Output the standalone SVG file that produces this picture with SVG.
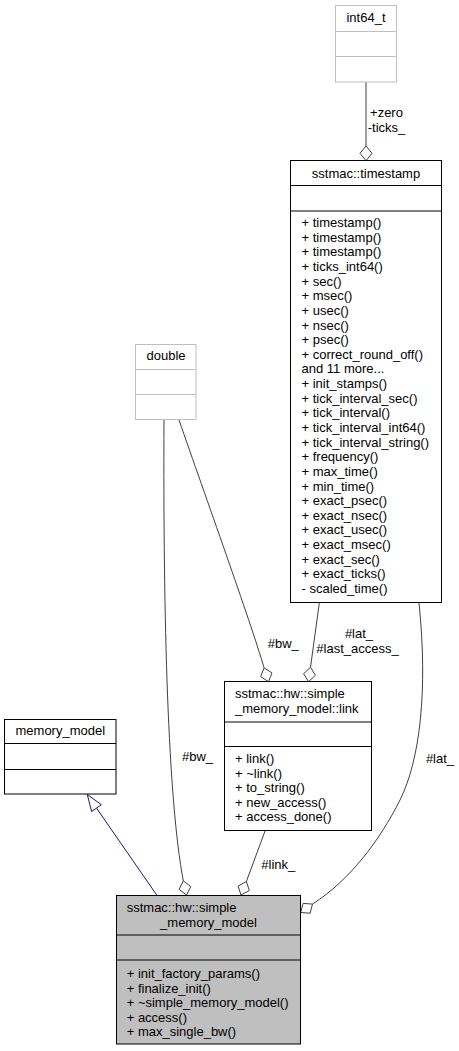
<svg xmlns="http://www.w3.org/2000/svg" width="459" height="1051" viewBox="0 0 459 1051">
  <style>
    text { font-family: "Liberation Sans", Arial, Helvetica, sans-serif; font-size: 13px; fill: #000; }
    .mid { text-anchor: middle; }
    .box { fill: #fff; stroke: #000; stroke-width: 1; }
    .ghost { fill: #fff; stroke: #bfbfbf; stroke-width: 1; }
    .cur { fill: #bfbfbf; stroke: #000; stroke-width: 1; }
    .sep { stroke: #000; stroke-width: 1; }
    .gsep { stroke: #bfbfbf; stroke-width: 1; }
    .use { fill: none; stroke: #404040; stroke-width: 1; }
    .dia { fill: #fff; stroke: #404040; stroke-width: 1; }
    .inh { fill: none; stroke: #191970; stroke-width: 1; }
    .tri { fill: #fff; stroke: #191970; stroke-width: 1; }
  </style>

  <!-- connectors -->
  <g id="edges">
    <!-- int64_t -> timestamp -->
    <path class="use" d="M366,82 V146"/>
    <polygon class="dia" points="366,160.7 372,153.3 366,146 360,153.3"/>
    <text class="mid" x="386.5" y="117">+zero</text>
    <text class="mid" x="386.5" y="132">-ticks_</text>

    <!-- double -> link -->
    <path class="use" d="M179,420 C205,495 250,620 264.1,667.9"/>
    <polygon class="dia" points="268.5,681.7 272,673 264.1,667.9 260.6,676.6"/>
    <text class="mid" x="283.3" y="648">#bw_</text>

    <!-- timestamp -> link -->
    <path class="use" d="M319.3,603 L310.5,667.3"/>
    <polygon class="dia" points="308.5,681.7 315.4,675.3 310.5,667.3 303.6,673.7"/>
    <text class="mid" x="359" y="638">#lat_</text>
    <text class="mid" x="357.5" y="652.5">#last_access_</text>

    <!-- timestamp -> simple_memory_model -->
    <path class="use" d="M419,603 C428,690 420,760 400,800 C380,840 350,880 312.5,904.1"/>
    <polygon class="dia" points="300.7,912.5 310.1,913.2 312.5,904.1 303.1,903.4"/>
    <text class="mid" x="440" y="763">#lat_</text>

    <!-- double -> simple_memory_model -->
    <path class="use" d="M164,420 C163,620 168,800 183.3,880.9"/>
    <polygon class="dia" points="186.5,895 190.75,886.6 183.3,880.9 179.05,889.3"/>
    <text class="mid" x="197.5" y="761">#bw_</text>

    <!-- link -> simple_memory_model -->
    <path class="use" d="M265,831 L246.4,881.5"/>
    <polygon class="dia" points="241,895 249.3,890.5 246.4,881.5 238.1,886.1"/>
    <text class="mid" x="278.3" y="869">#link_</text>

    <!-- simple_memory_model inherits memory_model -->
    <path class="inh" d="M156.7,895 L96.5,808.1"/>
    <polygon class="tri" points="87.3,794.5 101.4,804.7 91.6,811.5"/>
  </g>

  <!-- int64_t -->
  <g id="node-int64_t">
    <rect class="ghost" x="335.5" y="5.5" width="61" height="76.5"/>
    <line class="gsep" x1="335.5" y1="31.5" x2="396.5" y2="31.5"/>
    <line class="gsep" x1="335.5" y1="56.5" x2="396.5" y2="56.5"/>
    <text class="mid" x="366" y="22">int64_t</text>
  </g>

  <!-- sstmac::timestamp -->
  <g id="node-timestamp">
    <rect class="box" x="290.5" y="160.5" width="151" height="442"/>
    <line class="sep" x1="290.5" y1="185.5" x2="441.5" y2="185.5"/>
    <line class="sep" x1="290.5" y1="211" x2="441.5" y2="211"/>
    <text class="mid" x="366" y="178">sstmac::timestamp</text>
    <text x="301.5" y="227">+ timestamp()</text>
    <text x="301.5" y="241.6">+ timestamp()</text>
    <text x="301.5" y="256.3">+ timestamp()</text>
    <text x="301.5" y="270.9">+ ticks_int64()</text>
    <text x="301.5" y="285.6">+ sec()</text>
    <text x="301.5" y="300.2">+ msec()</text>
    <text x="301.5" y="314.8">+ usec()</text>
    <text x="301.5" y="329.5">+ nsec()</text>
    <text x="301.5" y="344.1">+ psec()</text>
    <text x="301.5" y="358.8">+ correct_round_off()</text>
    <text x="301.5" y="373.4">and 11 more...</text>
    <text x="301.5" y="388">+ init_stamps()</text>
    <text x="301.5" y="402.7">+ tick_interval_sec()</text>
    <text x="301.5" y="417.3">+ tick_interval()</text>
    <text x="301.5" y="432">+ tick_interval_int64()</text>
    <text x="301.5" y="446.6">+ tick_interval_string()</text>
    <text x="301.5" y="461.2">+ frequency()</text>
    <text x="301.5" y="475.9">+ max_time()</text>
    <text x="301.5" y="490.5">+ min_time()</text>
    <text x="301.5" y="505.2">+ exact_psec()</text>
    <text x="301.5" y="519.8">+ exact_nsec()</text>
    <text x="301.5" y="534.4">+ exact_usec()</text>
    <text x="301.5" y="549.1">+ exact_msec()</text>
    <text x="301.5" y="563.7">+ exact_sec()</text>
    <text x="301.5" y="578.4">+ exact_ticks()</text>
    <text x="301.5" y="593">- scaled_time()</text>
  </g>

  <!-- double -->
  <g id="node-double">
    <rect class="ghost" x="135.5" y="344.5" width="60.5" height="75"/>
    <line class="gsep" x1="135.5" y1="369.5" x2="196" y2="369.5"/>
    <line class="gsep" x1="135.5" y1="394.5" x2="196" y2="394.5"/>
    <text class="mid" x="166" y="360">double</text>
  </g>

  <!-- sstmac::hw::simple_memory_model::link -->
  <g id="node-link">
    <rect class="box" x="224.5" y="681.5" width="147" height="149"/>
    <line class="sep" x1="224.5" y1="722" x2="371.5" y2="722"/>
    <line class="sep" x1="224.5" y1="746.5" x2="371.5" y2="746.5"/>
    <text x="235" y="698">sstmac::hw::simple</text>
    <text x="235" y="712.6">_memory_model::link</text>
    <text x="235" y="763">+ link()</text>
    <text x="235" y="777.6">+ ~link()</text>
    <text x="235" y="792.2">+ to_string()</text>
    <text x="235" y="806.8">+ new_access()</text>
    <text x="235" y="821.4">+ access_done()</text>
  </g>

  <!-- memory_model -->
  <g id="node-memory_model">
    <rect class="box" x="4.5" y="719.5" width="111.5" height="74.5"/>
    <line class="sep" x1="4.5" y1="743.5" x2="116" y2="743.5"/>
    <line class="sep" x1="4.5" y1="769.5" x2="116" y2="769.5"/>
    <text class="mid" x="60.3" y="735">memory_model</text>
  </g>

  <!-- sstmac::hw::simple_memory_model -->
  <g id="node-simple_memory_model">
    <rect class="cur" x="116.5" y="895.5" width="184" height="148.5"/>
    <line class="sep" x1="116.5" y1="935" x2="300.5" y2="935"/>
    <line class="sep" x1="116.5" y1="960" x2="300.5" y2="960"/>
    <text x="126.7" y="912">sstmac::hw::simple</text>
    <text class="mid" x="208.5" y="926.5">_memory_model</text>
    <text x="126.7" y="978">+ init_factory_params()</text>
    <text x="126.7" y="992.6">+ finalize_init()</text>
    <text x="126.7" y="1007.2">+ ~simple_memory_model()</text>
    <text x="126.7" y="1021.8">+ access()</text>
    <text x="126.7" y="1036.4">+ max_single_bw()</text>
  </g>
</svg>
